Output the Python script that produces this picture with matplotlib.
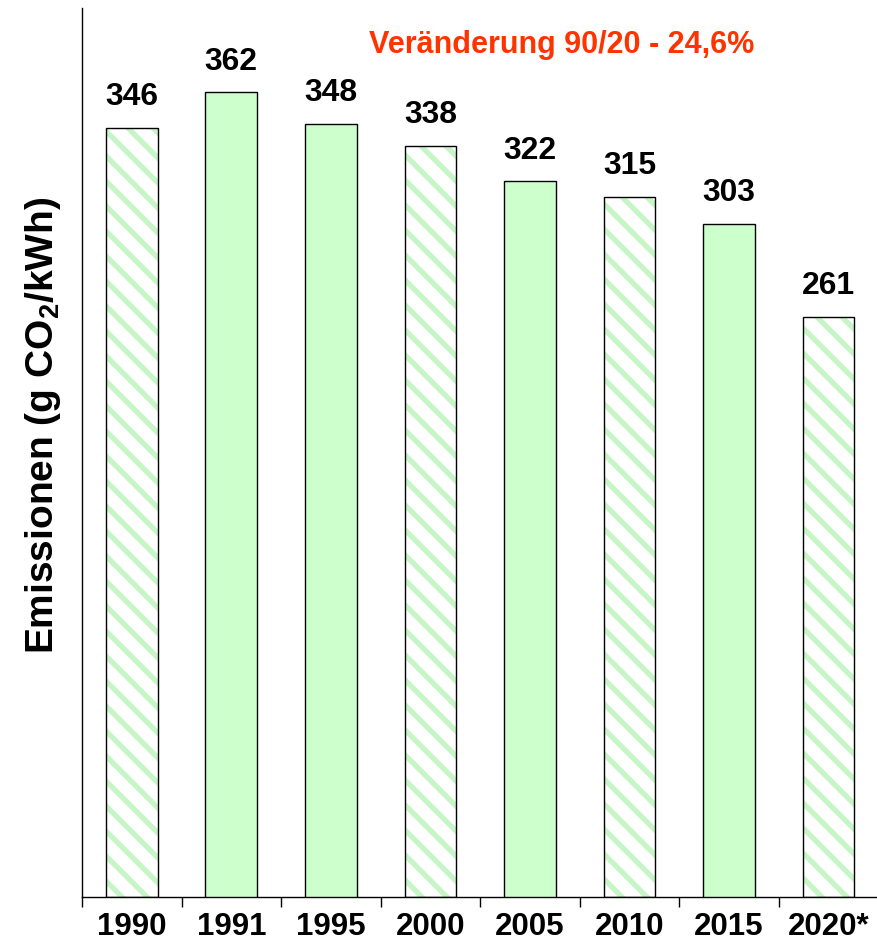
import matplotlib
matplotlib.use("Agg")
import matplotlib.pyplot as plt
import numpy as np

# Data
years = ['1990', '1991', '1995', '2000', '2005', '2010', '2015', '2020*']
emissions = [346, 362, 348, 338, 322, 315, 303, 261]
hatched = [True, False, False, True, False, True, False, True]

# render at 150 dpi so the hatch spacing comes out right; S keeps sizes in "100 dpi points"
DPI = 150
S = 100 / DPI

plt.rcParams['font.family'] = ['Liberation Sans', 'DejaVu Sans']
plt.rcParams['mathtext.fontset'] = 'custom'
plt.rcParams['mathtext.rm'] = 'Liberation Sans:bold'
plt.rcParams['mathtext.bf'] = 'Liberation Sans:bold'
plt.rcParams['hatch.color'] = '#c6f5c6'
plt.rcParams['hatch.linewidth'] = 3.8 * S

fig = plt.figure(figsize=(877 / DPI, 947 / DPI), dpi=DPI)
ax = fig.add_axes([0.0935, 0.0528, 0.908, 0.9388])

x = np.arange(len(years))
for i, (v, h) in enumerate(zip(emissions, hatched)):
    if h:
        ax.bar(x[i], v, width=0.52, color='white', edgecolor='#c6f5c6',
               hatch='\\\\', linewidth=0, zorder=2)
        ax.bar(x[i], v, width=0.52, fill=False, edgecolor='black',
               linewidth=1.0 * S, zorder=3)
    else:
        ax.bar(x[i], v, width=0.52, color='#ccffcc', edgecolor='black',
               linewidth=1.0 * S, zorder=3)
    ax.text(x[i], v + 7, str(v), ha='center', va='bottom',
            fontsize=23 * S, fontweight='bold')

ax.set_xlim(-0.5, len(years) - 0.5)
ax.set_ylim(0, 400)

ax.set_xticks(x)
ax.set_xticklabels(years, fontsize=22.5 * S, fontweight='bold')
ax.tick_params(axis='x', length=0, pad=11 * S)
ax.set_xticks(np.arange(-0.5, len(years)), minor=True)
ax.tick_params(axis='x', which='minor', length=7 * S, width=1 * S, direction='out')
ax.set_yticks([])

for s in ['top', 'right']:
    ax.spines[s].set_visible(False)
for s in ['left', 'bottom']:
    ax.spines[s].set_linewidth(1.0 * S)

ax.set_ylabel('Emissionen (g CO$_2$/kWh)', fontsize=28 * S, fontweight='bold')
ax.yaxis.set_label_coords(-0.024, 0.531)

ax.text(0.602, 0.958, 'Veränderung 90/20 - 24,6%', transform=ax.transAxes,
        ha='center', va='center', fontsize=22 * S, fontweight='bold',
        color='#ff3300')

fig.savefig('out.png', dpi=DPI)
